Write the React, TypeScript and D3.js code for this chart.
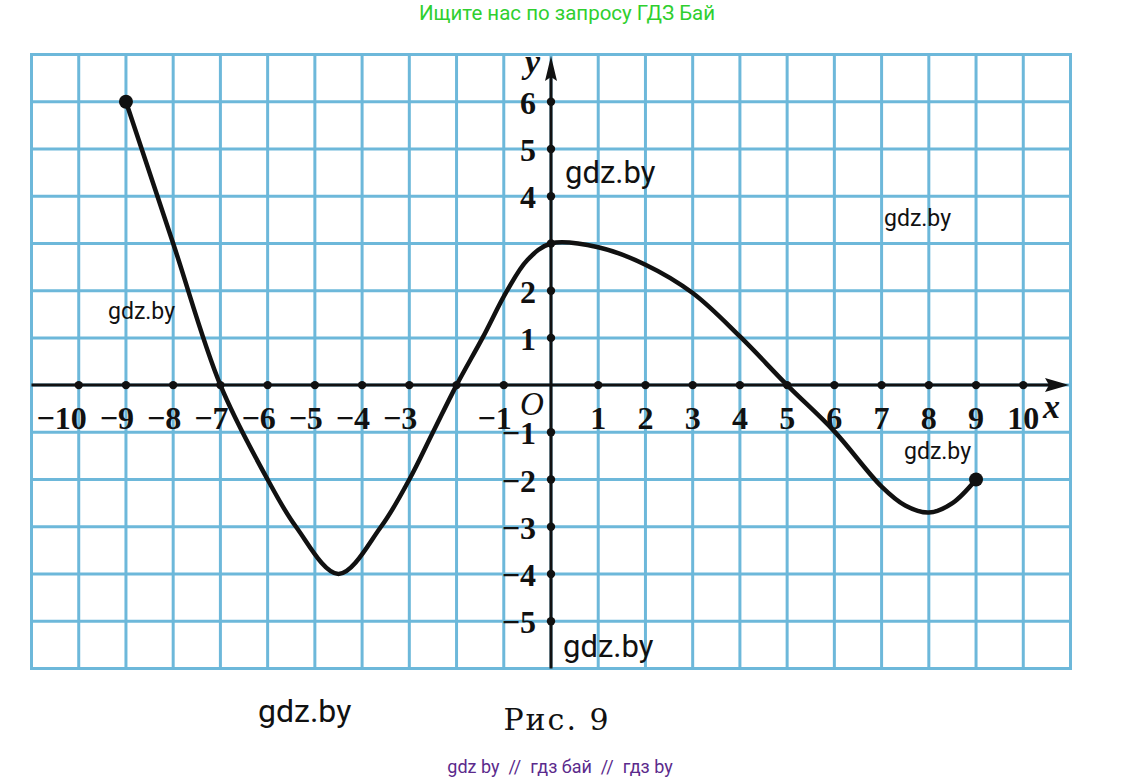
import React from "react";
import * as d3 from "d3";

const curveX = [-9, -8, -7, -6, -5.4, -4.5, -3.6, -3, -2.5, -2, -1.45, -0.93, -0.5, 0, 1, 2, 3, 4, 5, 6, 7, 7.5, 8, 8.5, 9];
const curveY = [6, 3, 0, -2, -3, -4, -3, -2, -1, 0, 1, 2, 2.65, 3, 2.92, 2.55, 1.95, 1.03, 0, -0.98, -2.15, -2.55, -2.7, -2.5, -2];
const endpoints: [number, number][] = [[-9, 6], [9, -2]];
const xTickLabels = [-10, -9, -8, -7, -6, -5, -4, -3, -1, 1, 2, 3, 4, 5, 6, 7, 8, 9, 10];
const yTickLabels = [6, 5, 4, 2, 1, -1, -2, -3, -4, -5];
const xDots = d3.range(-10, 11).filter((v) => v !== 0);
const yDots = d3.range(-5, 7).filter((v) => v !== 0);
const gridX = d3.range(-11, 12);
const gridY = d3.range(-6, 8);

const watermarks = [
  { t: "gdz.by", x: 565, y: 183, s: 31 },
  { t: "gdz.by", x: 884, y: 226, s: 23 },
  { t: "gdz.by", x: 108, y: 319, s: 23 },
  { t: "gdz.by", x: 904, y: 459, s: 23 },
  { t: "gdz.by", x: 563, y: 657, s: 31 },
  { t: "gdz.by", x: 258, y: 722, s: 32 },
];

const minus = "\u2212";
const fmt = (v: number) => (v < 0 ? minus + Math.abs(v) : String(v));

export default function App() {
  const W = 1121, H = 780;
  const x = d3.scaleLinear().domain([-11, 11]).range([31.5, 1070.5]);
  const y = d3.scaleLinear().domain([7, -6]).range([54.6, 668.4]);
  const pts = curveX.map((v, i) => [v, curveY[i]] as [number, number]);
  const line = d3.line<[number, number]>().x((d) => x(d[0])).y((d) => y(d[1])).curve(d3.curveCatmullRom.alpha(0.5));
  const gridColor = "#6db8da";
  const x0 = x(0), y0 = y(0);
  const labelFont = "'Liberation Serif', 'DejaVu Serif', serif";
  return (
    <svg width={W} height={H} style={{ position: "absolute", left: 0, top: 0, background: "#fff" }}>
      <text x={567} y={20} textAnchor="middle" fill="#2fcf2f" fontFamily="Roboto, sans-serif" fontSize={20.5}>
        Ищите нас по запросу ГДЗ Бай
      </text>
      {gridX.map((v) => (
        <line key={"gx" + v} x1={x(v)} x2={x(v)} y1={y(7)} y2={y(-6)} stroke={gridColor} strokeWidth={3} />
      ))}
      {gridY.map((v) => (
        <line key={"gy" + v} x1={x(-11) - 1.5} x2={x(11) + 1.5} y1={y(v)} y2={y(v)} stroke={gridColor} strokeWidth={3} />
      ))}
      {/* axes */}
      <line x1={x(-11)} x2={1050} y1={y0} y2={y0} stroke="#111" strokeWidth={3} />
      <path d={`M1069,${y0} L1045,${y0 - 7} L1049,${y0} L1045,${y0 + 7} Z`} fill="#111" />
      <line x1={x0} x2={x0} y1={y(-6)} y2={75} stroke="#111" strokeWidth={3} />
      <path d={`M${x0},56 L${x0 - 6},81 L${x0},77 L${x0 + 6},81 Z`} fill="#111" />
      {xDots.map((v) => (
        <circle key={"xd" + v} cx={x(v)} cy={y0} r={4.2} fill="#111" />
      ))}
      {yDots.map((v) => (
        <circle key={"yd" + v} cx={x0} cy={y(v)} r={4.2} fill="#111" />
      ))}
      {/* curve */}
      <path d={line(pts) || ""} fill="none" stroke="#111" strokeWidth={4.5} strokeLinejoin="round" strokeLinecap="round" />
      {endpoints.map((d, i) => (
        <circle key={"ep" + i} cx={x(d[0])} cy={y(d[1])} r={7} fill="#111" />
      ))}
      {/* tick labels */}
      {xTickLabels.map((v) => (
        <text
          key={"xl" + v}
          x={v < 0 ? x(v) + 8 : x(v)}
          y={y0 + 44}
          textAnchor={v < 0 ? "end" : "middle"}
          fontFamily={labelFont}
          fontWeight="bold"
          fontSize={32}
          fill="#111"
        >
          {fmt(v)}
        </text>
      ))}
      {yTickLabels.map((v) => (
        <text
          key={"yl" + v}
          x={x0 - 15}
          y={y(v) + 12}
          textAnchor="end"
          fontFamily={labelFont}
          fontWeight="bold"
          fontSize={32}
          fill="#111"
        >
          {fmt(v)}
        </text>
      ))}
      <text x={520} y={415} fontFamily={labelFont} fontStyle="italic" fontSize={33} fill="#111">O</text>
      <text x={540} y={73} textAnchor="end" fontFamily={labelFont} fontStyle="italic" fontWeight="bold" fontSize={34} fill="#111">y</text>
      <text x={1043} y={418} fontFamily={labelFont} fontStyle="italic" fontWeight="bold" fontSize={34} fill="#111">x</text>
      {watermarks.map((w, i) => (
        <text key={"wm" + i} x={w.x} y={w.y} fontFamily="Roboto, sans-serif" fontSize={w.s} fill="#111">
          {w.t}
        </text>
      ))}
      <text x={557} y={730} textAnchor="middle" fontFamily="'DejaVu Serif', serif" fontSize={30} letterSpacing={2} fill="#111">
        Рис. 9
      </text>
      <text x={560} y={773} textAnchor="middle" fontFamily="Roboto, sans-serif" fontSize={18} fill="#5b2a8c" style={{ whiteSpace: "pre" }}>
        {"gdz by  //  гдз бай  //  гдз by"}
      </text>
    </svg>
  );
}
